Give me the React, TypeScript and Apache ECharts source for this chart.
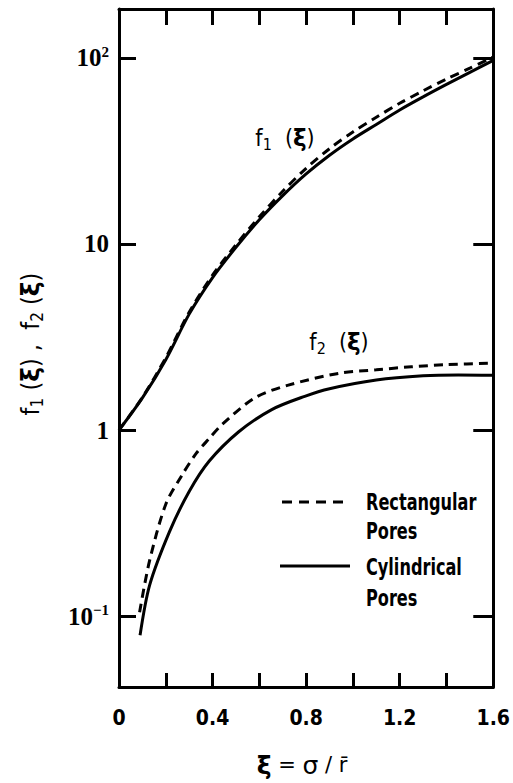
import React, { useEffect, useRef } from "react";
import * as echarts from "echarts";

// ξ grid for f1 curves
const XI_F1 = [0, 0.1, 0.2, 0.3, 0.4, 0.5, 0.6, 0.7, 0.8, 0.9, 1.0, 1.1, 1.2, 1.3, 1.4, 1.5, 1.6];
const F1_CYL = [1, 1.49, 2.39, 4.2, 6.6, 9.6, 13.5, 18.2, 23.8, 30, 36.7, 43.9, 52.5, 61.7, 72, 83.6, 97];
const F1_RECT = [1, 1.5, 2.45, 4.3, 6.8, 9.9, 14, 19.2, 25.5, 32.5, 40, 48, 57, 66.5, 77, 88, 101];

const XI_F2_CYL = [0.09, 0.131, 0.216, 0.3, 0.385, 0.512, 0.653, 0.794, 0.9, 1.1, 1.3, 1.45, 1.6];
const F2_CYL = [0.079, 0.147, 0.285, 0.468, 0.68, 0.98, 1.29, 1.52, 1.67, 1.86, 1.96, 1.98, 1.97];
const XI_F2_RECT = [0.088, 0.13, 0.2, 0.27, 0.33, 0.385, 0.44, 0.58, 0.72, 0.94, 1.1, 1.25, 1.4, 1.6];
const F2_RECT = [0.105, 0.197, 0.4, 0.575, 0.75, 0.9, 1.07, 1.49, 1.74, 2.02, 2.11, 2.19, 2.25, 2.29];

const X_LABELS = ["0", "0.4", "0.8", "1.2", "1.6"];
const Y_DECADE_LABELS: Record<number, string> = {
  2: "{b|10}{sup|2}",
  1: "{b|10}",
  0: "{b|1}",
  [-1]: "{b|10}{sup|−1}",
};

const COND = "'DejaVu Sans Condensed', 'Liberation Sans Narrow', sans-serif";
const SERIF = "'Liberation Serif', 'DejaVu Serif', serif";

const zip = (xs: number[], ys: number[]) => xs.map((x, i) => [x, ys[i]]);

export default function App() {
  const ref = useRef<HTMLDivElement>(null);
  useEffect(() => {
    if (!ref.current) return;
    const chart = echarts.init(ref.current, undefined, { renderer: "svg" });
    const axisLine = { show: true, onZero: false, lineStyle: { color: "#000", width: 3 } };
    const tickStyle = { color: "#000", width: 3 };
    const subRich = {
      i: { fontFamily: COND, fontSize: 23, color: "#000" },
      g: { fontFamily: "'DejaVu Sans', sans-serif", fontSize: 23, fontWeight: "bold", color: "#000" },
      s: { fontFamily: COND, fontSize: 16, color: "#000", padding: [13, 0, 0, 0] },
    };
    const nameRich = {
      i: { fontFamily: COND, fontSize: 25, color: "#000" },
      g: { fontFamily: "'DejaVu Sans', sans-serif", fontSize: 25, fontWeight: "bold", color: "#000" },
      s: { fontFamily: COND, fontSize: 17, color: "#000", padding: [14, 0, 0, 0] },
    };
    chart.setOption({
      animation: false,
      backgroundColor: "#fff",
      grid: { left: 119, right: 16, top: 9, bottom: 96 },
      xAxis: [
        {
          type: "value",
          position: "bottom",
          min: 0,
          max: 1.6,
          interval: 0.2,
          axisLine,
          axisTick: { show: true, inside: true, length: 14, lineStyle: tickStyle },
          splitLine: { show: false },
          axisLabel: {
            show: true,
            margin: 20,
            color: "#000",
            fontFamily: COND,
            fontWeight: "bold",
            fontSize: 21,
            showMinLabel: true,
            showMaxLabel: true,
            formatter: (v: number) => {
              const k = Math.round(v * 10);
              return k % 4 === 0 ? X_LABELS[k / 4] : "";
            },
          },
        },
        {
          type: "value",
          position: "top",
          min: 0,
          max: 1.6,
          interval: 0.2,
          axisLine,
          axisTick: { show: true, inside: true, length: 16, lineStyle: tickStyle },
          splitLine: { show: false },
          axisLabel: { show: false },
        },
      ],
      yAxis: [
        {
          type: "log",
          logBase: 10,
          min: 0.0417,
          max: 183,
          position: "left",
          axisLine,
          axisTick: { show: true, inside: true, length: 17, lineStyle: tickStyle },
          splitLine: { show: false },
          axisLabel: {
            show: true,
            margin: 10,
            showMinLabel: false,
            showMaxLabel: false,
            formatter: (v: number) => {
              const l = Math.log10(v);
              const r = Math.round(l);
              if (Math.abs(l - r) > 1e-6) return "";
              return Y_DECADE_LABELS[r] ?? "";
            },
            rich: {
              b: { fontFamily: SERIF, fontSize: 25, fontWeight: "bold", color: "#000" },
              sup: { fontFamily: SERIF, fontSize: 15, fontWeight: "bold", color: "#000", padding: [0, 0, 12, 0] },
            },
          },
        },
        {
          type: "log",
          logBase: 10,
          min: 0.0417,
          max: 183,
          position: "right",
          axisLine,
          axisTick: { show: true, inside: true, length: 20, lineStyle: tickStyle },
          splitLine: { show: false },
          axisLabel: { show: false },
        },
      ],
      series: [
        {
          name: "f1 Cylindrical",
          type: "line",
          data: zip(XI_F1, F1_CYL),
          showSymbol: false,
          smooth: 0.3,
          lineStyle: { color: "#000", width: 3 },
        },
        {
          name: "f1 Rectangular",
          type: "line",
          data: zip(XI_F1, F1_RECT),
          showSymbol: false,
          smooth: 0.3,
          lineStyle: { color: "#000", width: 3, type: [9, 6] },
        },
        {
          name: "f2 Cylindrical",
          type: "line",
          data: zip(XI_F2_CYL, F2_CYL),
          showSymbol: false,
          smooth: 0.3,
          lineStyle: { color: "#000", width: 3 },
        },
        {
          name: "f2 Rectangular",
          type: "line",
          data: zip(XI_F2_RECT, F2_RECT),
          showSymbol: false,
          smooth: 0.3,
          lineStyle: { color: "#000", width: 3, type: [9, 6] },
        },
      ],
      graphic: [
        {
          type: "text",
          x: 30,
          y: 344,
          rotation: Math.PI / 2,
          style: {
            text: "{i|f}{s|1}{i| (}{g|ξ}{i|) ,  f}{s|2}{i| (}{g|ξ}{i|)}",
            rich: nameRich,
            align: "center",
            verticalAlign: "middle",
          },
        },
        {
          type: "text",
          x: 285,
          y: 138,
          style: {
            text: "{i|f}{s|1}{i|  (}{g|ξ}{i|)}",
            rich: subRich,
            align: "center",
            verticalAlign: "middle",
          },
        },
        {
          type: "text",
          x: 339,
          y: 342,
          style: {
            text: "{i|f}{s|2}{i|  (}{g|ξ}{i|)}",
            rich: subRich,
            align: "center",
            verticalAlign: "middle",
          },
        },
        {
          type: "line",
          shape: { x1: 282, y1: 502, x2: 347, y2: 502 },
          style: { stroke: "#000", lineWidth: 3, lineDash: [10, 7] },
        },
        {
          type: "line",
          shape: { x1: 280, y1: 566, x2: 350, y2: 566 },
          style: { stroke: "#000", lineWidth: 3 },
        },
        {
          type: "text",
          x: 366,
          y: 517,
          scaleX: 0.78,
          style: {
            text: "Rectangular\nPores",
            fontFamily: COND,
            fontWeight: "bold",
            fontSize: 23,
            lineHeight: 29,
            fill: "#000",
            align: "left",
            verticalAlign: "middle",
          },
        },
        {
          type: "text",
          x: 366,
          y: 583,
          scaleX: 0.78,
          style: {
            text: "Cylindrical\nPores",
            fontFamily: COND,
            fontWeight: "bold",
            fontSize: 23,
            lineHeight: 31,
            fill: "#000",
            align: "left",
            verticalAlign: "middle",
          },
        },
        {
          type: "text",
          x: 302,
          y: 765,
          style: {
            text: "{x|ξ}{t| = }{s|σ}{t| / r̄}",
            rich: {
              x: { fontFamily: "'DejaVu Sans', sans-serif", fontSize: 25, fontWeight: "bold", color: "#000" },
              t: { fontFamily: "'DejaVu Sans', sans-serif", fontSize: 21, color: "#000" },
              s: { fontFamily: "'DejaVu Sans', sans-serif", fontSize: 25, color: "#000" },
            },
            align: "center",
            verticalAlign: "middle",
          },
        },
      ],
    });
    return () => chart.dispose();
  }, []);
  return (
    <div
      ref={ref}
      style={{ position: "absolute", left: 0, top: 0, width: 513, height: 783 }}
    />
  );
}
